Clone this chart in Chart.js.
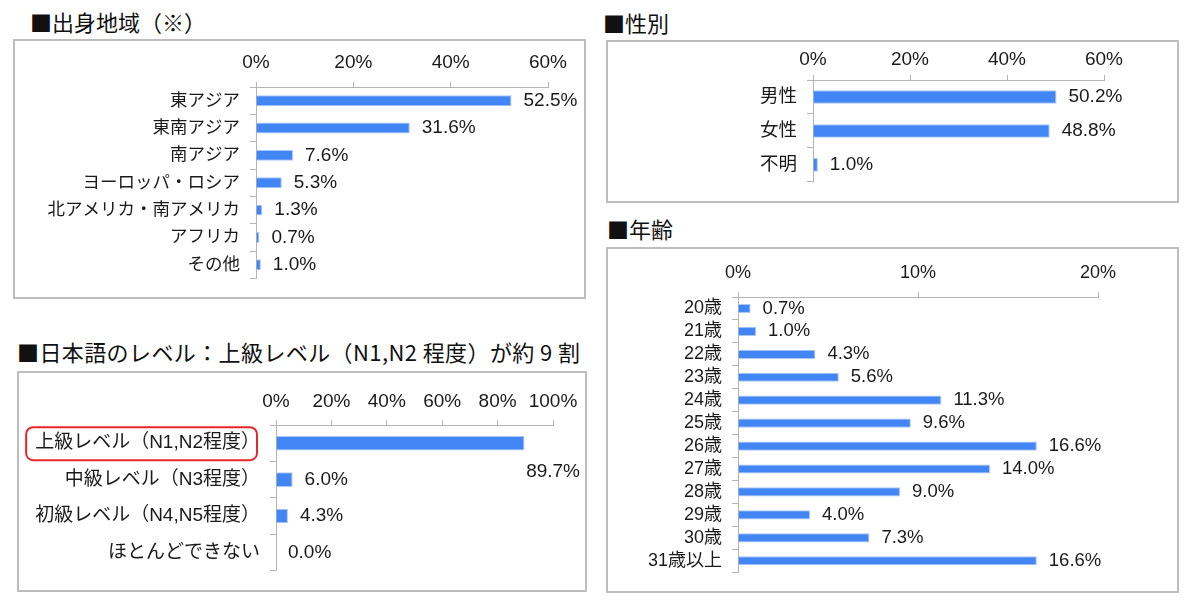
<!DOCTYPE html>
<html>
<head>
<meta charset="utf-8">
<script src="https://cdn.jsdelivr.net/npm/chart.js@4.4.1/dist/chart.umd.min.js"></script>
<style>
  body { margin: 0; background: #fff; width: 1188px; height: 600px; position: relative; overflow: hidden; }
  .box { position: absolute; border: 2px solid #bdbdbd; box-sizing: border-box; }
  canvas { position: absolute; }
  .title { position: absolute; font-family: "Noto Sans CJK JP", sans-serif; font-size: 22px; line-height: 1; color: #111; white-space: nowrap; }
</style>
</head>
<body>

<div class="title" style="left:30px;top:10px;">■出身地域（※）</div>
<div class="title" style="left:17px;top:340px;letter-spacing:0.4px;">■日本語のレベル：上級レベル（N1,N2 程度）が約 9 割</div>
<div class="title" style="left:603px;top:11px;">■性別</div>
<div class="title" style="left:607px;top:217px;">■年齢</div>

<div class="box" style="left:13px;top:39px;width:573px;height:260px;"></div>
<div class="box" style="left:17px;top:371px;width:570px;height:221px;"></div>
<div class="box" style="left:606px;top:40px;width:573px;height:163px;"></div>
<div class="box" style="left:606px;top:247px;width:573px;height:346px;"></div>

<canvas id="regionChart"></canvas>
<canvas id="levelChart"></canvas>
<canvas id="genderChart"></canvas>
<canvas id="ageChart"></canvas>

<script>
// ---- data ----
const regionLabels = ['東アジア', '東南アジア', '南アジア', 'ヨーロッパ・ロシア', '北アメリカ・南アメリカ', 'アフリカ', 'その他'];
const regionValues = [52.5, 31.6, 7.6, 5.3, 1.3, 0.7, 1.0];
const regionTicks = [0, 20, 40, 60];

const levelLabels = ['上級レベル（N1,N2程度）', '中級レベル（N3程度）', '初級レベル（N4,N5程度）', 'ほとんどできない'];
const levelValues = [89.7, 6.0, 4.3, 0.0];
const levelTicks = [0, 20, 40, 60, 80, 100];

const genderLabels = ['男性', '女性', '不明'];
const genderValues = [50.2, 48.8, 1.0];
const genderTicks = [0, 20, 40, 60];

const ageLabels = ['20歳', '21歳', '22歳', '23歳', '24歳', '25歳', '26歳', '27歳', '28歳', '29歳', '30歳', '31歳以上'];
const ageValues = [0.7, 1.0, 4.3, 5.6, 11.3, 9.6, 16.6, 14.0, 9.0, 4.0, 7.3, 16.6];
const ageTicks = [0, 10, 20];

const FONT = '"Liberation Sans", Arial, "Noto Sans CJK JP", sans-serif';
const TEXT = '#1a1a1a';
const AXIS = '#b4b4b4';

// value labels at the end of each bar; drops below when there's no room on the right
const valueLabels = {
    id: 'valueLabels',
    afterDatasetsDraw(chart, args, opts) {
        const ctx = chart.ctx;
        const values = chart.data.datasets[0].data;
        ctx.save();
        ctx.font = opts.size + 'px ' + FONT;
        ctx.fillStyle = TEXT;
        ctx.textBaseline = 'middle';
        chart.getDatasetMeta(0).data.forEach((bar, i) => {
            const text = values[i].toFixed(1) + '%';
            const w = ctx.measureText(text).width;
            let x = bar.x + opts.gap;
            let y = bar.y;
            ctx.textAlign = 'left';
            if (x + w > chart.width - 3) {
                ctx.textAlign = 'right';
                x = chart.width - 7;
                y = bar.y + 29;
            }
            ctx.fillText(text, x, y);
        });
        ctx.restore();
    }
};

// red rounded frame round one category label
const labelFrame = {
    id: 'labelFrame',
    afterDraw(chart, args, opts) {
        if (opts.index == null) return;
        const yScale = chart.scales.y;
        const ctx = chart.ctx;
        ctx.save();
        ctx.font = opts.size + 'px ' + FONT;
        const w = ctx.measureText(chart.data.labels[opts.index]).width;
        const right = yScale.right - 16;
        const cy = yScale.getPixelForTick(opts.index);
        ctx.strokeStyle = '#e8262b';
        ctx.lineWidth = 2;
        ctx.beginPath();
        ctx.roundRect(right - w - 9, cy - 16, w + 6, 33, 7);
        ctx.stroke();
        ctx.restore();
    }
};

function makeChart(id, labels, values, ticks, p) {
    const canvas = document.getElementById(id);
    canvas.width = p.bw;
    canvas.height = p.bh;
    canvas.style.left = p.bx + 'px';
    canvas.style.top = p.by + 'px';
    canvas.style.width = p.bw + 'px';
    canvas.style.height = p.bh + 'px';
    return new Chart(canvas.getContext('2d'), {
        type: 'bar',
        data: {
            labels: labels,
            datasets: [{
                data: values,
                backgroundColor: '#4285f4',
                borderColor: '#a9c8f8',
                borderWidth: 1,
                barPercentage: 0.4,
                categoryPercentage: 1
            }]
        },
        options: {
            indexAxis: 'y',
            responsive: false,
            animation: false,
            devicePixelRatio: 1,
            layout: { padding: { left: 0, top: 0, right: p.bx + p.bw - p.right, bottom: p.by + p.bh - p.bottom } },
            plugins: {
                legend: { display: false },
                tooltip: { enabled: false },
                valueLabels: { size: p.valSize, gap: 12 },
                labelFrame: { index: p.frame, size: p.catSize }
            },
            scales: {
                x: {
                    type: 'linear',
                    position: 'top',
                    min: ticks[0],
                    max: ticks[ticks.length - 1],
                    afterFit(scale) { scale.height = p.top - p.by; },
                    ticks: {
                        stepSize: ticks[1] - ticks[0],
                        padding: p.tickPad,
                        color: TEXT,
                        font: { family: FONT, size: p.tickSize },
                        callback: v => v + '%'
                    },
                    grid: { drawOnChartArea: false, tickLength: 5, color: AXIS },
                    border: { display: true, color: AXIS, width: 1 }
                },
                y: {
                    afterFit(scale) { scale.width = p.left - p.bx; },
                    ticks: {
                        autoSkip: false,
                        padding: 10,
                        color: TEXT,
                        font: { family: FONT, size: p.catSize }
                    },
                    grid: { offset: true, drawOnChartArea: false, tickLength: 6, color: AXIS },
                    border: { display: true, color: AXIS, width: 1 }
                }
            }
        },
        plugins: [valueLabels, labelFrame]
    });
}

makeChart('regionChart', regionLabels, regionValues, regionTicks,
    { bx: 13, by: 39, bw: 573, bh: 260, left: 256, top: 87, right: 548, bottom: 292, tickPad: 7.5, tickSize: 19, valSize: 19, catSize: 17.5 });
makeChart('levelChart', levelLabels, levelValues, levelTicks,
    { bx: 17, by: 371, bw: 570, bh: 221, left: 276, top: 425, right: 553, bottom: 575, tickPad: 6.5, tickSize: 19, valSize: 19, catSize: 19, frame: 0 });
makeChart('genderChart', genderLabels, genderValues, genderTicks,
    { bx: 606, by: 40, bw: 573, bh: 163, left: 813, top: 80, right: 1104, bottom: 201, tickPad: 3.5, tickSize: 19, valSize: 19, catSize: 18.5 });
makeChart('ageChart', ageLabels, ageValues, ageTicks,
    { bx: 606, by: 247, bw: 573, bh: 346, left: 738, top: 297, right: 1098, bottom: 576, tickPad: 8, tickSize: 18, valSize: 18.5, catSize: 18 });
</script>
</body>
</html>
